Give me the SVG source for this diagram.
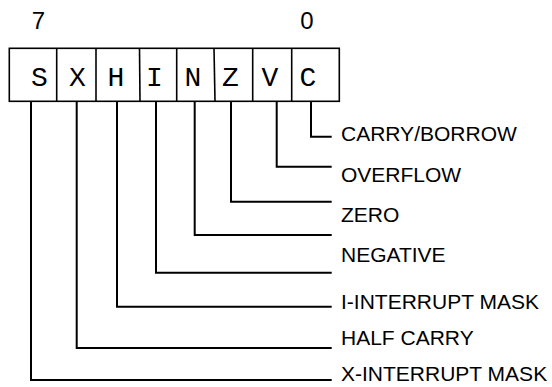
<svg xmlns="http://www.w3.org/2000/svg" width="552" height="387" viewBox="0 0 552 387">
<style>
.bit{font-family:"Liberation Mono","Courier New",monospace;font-size:28px;fill:#000;text-anchor:middle}
.num{font-family:"Liberation Sans",Arial,sans-serif;font-size:24px;fill:#000;text-anchor:middle}
.lbl{font-family:"Liberation Sans",Arial,sans-serif;font-size:21px;fill:#000}
.box{fill:#fff;stroke:#000;stroke-width:1.6}
.div{stroke:#000;stroke-width:1.6;fill:none}
.con{stroke:#000;stroke-width:2;fill:none}
</style>
<rect width="552" height="387" fill="#fff"/>
<g id="bitnumbers">
<text class="num" x="38.5" y="29.3">7</text>
<text class="num" x="307" y="29.3">0</text>
</g>
<g id="register">
<rect class="box" x="9.3" y="48.3" width="330" height="53"/>
<line class="div" x1="56.7" y1="48.3" x2="56.7" y2="101.3"/>
<line class="div" x1="96" y1="48.3" x2="96" y2="101.3"/>
<line class="div" x1="139.5" y1="48.3" x2="140" y2="101.3"/>
<line class="div" x1="176.7" y1="48.3" x2="176.7" y2="101.3"/>
<line class="div" x1="214" y1="48.3" x2="215" y2="101.3"/>
<line class="div" x1="252.7" y1="48.3" x2="252.7" y2="101.3"/>
<line class="div" x1="291.7" y1="48.3" x2="291.7" y2="101.3"/>
</g>
<g id="bit-S"><text class="bit" x="39.5" y="86">S</text></g>
<g id="bit-X"><text class="bit" x="77.5" y="86">X</text></g>
<g id="bit-H"><text class="bit" x="116" y="86">H</text></g>
<g id="bit-I"><text class="bit" x="154.5" y="86">I</text></g>
<g id="bit-N"><text class="bit" x="193" y="86">N</text></g>
<g id="bit-Z"><text class="bit" x="230.5" y="86">Z</text></g>
<g id="bit-V"><text class="bit" x="270" y="86">V</text></g>
<g id="bit-C"><text class="bit" x="308" y="86">C</text></g>
<g id="connectors">
<polyline class="con" points="311,101.3 311,136.7 331.7,136.7"/>
<polyline class="con" points="276.7,101.3 276.7,166.7 331.7,166.7"/>
<polyline class="con" points="231,101.3 231,201.7 331.7,201.7"/>
<polyline class="con" points="194.7,101.3 194.7,235 331.7,235"/>
<polyline class="con" points="156,101.3 156,272.7 331.7,272.7"/>
<polyline class="con" points="117,101.3 117,306.7 331.7,306.7"/>
<polyline class="con" points="76.7,101.3 76.7,348 331.7,348"/>
<polyline class="con" points="31,101.3 31,380 331.7,380"/>
</g>
<g id="labels">
<text class="lbl" x="341" y="140.7">CARRY/BORROW</text>
<text class="lbl" x="341" y="181.5">OVERFLOW</text>
<text class="lbl" x="341" y="221.7">ZERO</text>
<text class="lbl" x="341" y="262.3">NEGATIVE</text>
<text class="lbl" x="341" y="309">I-INTERRUPT MASK</text>
<text class="lbl" x="341" y="345">HALF CARRY</text>
<text class="lbl" x="341" y="380.7">X-INTERRUPT MASK</text>
</g>
</svg>
